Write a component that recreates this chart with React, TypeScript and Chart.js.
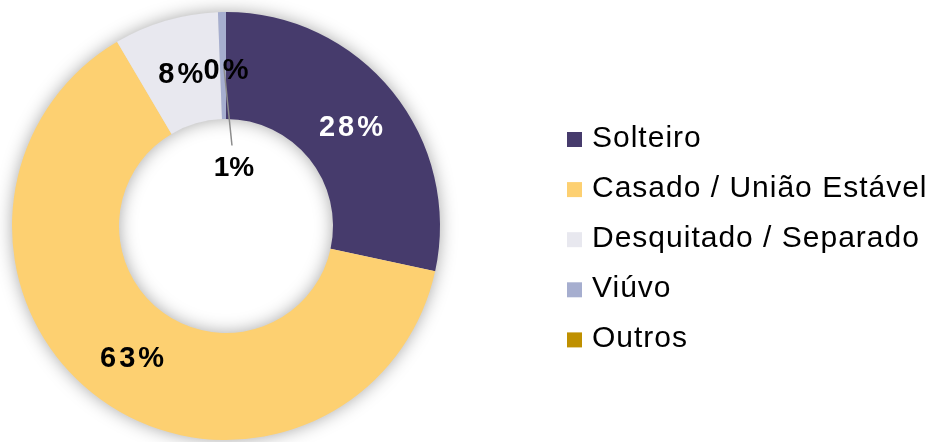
import React, { useEffect, useRef } from "react";
import { Chart, registerables } from "chart.js";

Chart.register(...registerables);

const categories = ["Solteiro", "Casado / União Estável", "Desquitado / Separado", "Viúvo", "Outros"];
const shares = [28.4, 63.1, 7.9, 0.6, 0];
const sliceColors = ["#463B6C", "#FDD071", "#E8E8EF", "#A6AECF", "#BF9000"];
const labelColors = ["#FFFFFF", "#000000", "#000000", "#000000", "#000000"];

const FONT = '"Liberation Sans", Arial, sans-serif';

// label displacement (only the tiny "Viúvo" slice has its label pulled inside with a leader line)
const labelShift = [
  { dx: 0, dy: 3, lead: false, spacing: 3, size: 29 },
  { dx: 0, dy: 3, lead: false, spacing: 3, size: 29 },
  { dx: 0, dy: 3, lead: false, spacing: 3, size: 29 },
  { dx: 11, dy: 103, lead: true, spacing: 0, size: 28 },
  { dx: 0, dy: 5, lead: false, spacing: 3, size: 29 },
];

const shadowPlugin = {
  id: "ringShadow",
  beforeDatasetsDraw(chart: any) {
    const arc: any = chart.getDatasetMeta(0).data[0];
    if (!arc) return;
    const { x, y, outerRadius, innerRadius } = arc.getProps(["x", "y", "outerRadius", "innerRadius"], true);
    const ctx = chart.ctx;
    ctx.save();
    ctx.shadowColor = "rgba(0,0,0,0.38)";
    ctx.shadowBlur = 18;
    ctx.fillStyle = "#d8d8d8";
    ctx.beginPath();
    ctx.arc(x, y, outerRadius - 1, 0, Math.PI * 2);
    ctx.arc(x, y, innerRadius + 1, 0, Math.PI * 2, true);
    ctx.fill();
    ctx.restore();
  },
};

const labelPlugin = {
  id: "sliceLabels",
  afterDatasetsDraw(chart: any) {
    const ctx = chart.ctx;
    const meta = chart.getDatasetMeta(0);
    const values = chart.data.datasets[0].data as number[];
    meta.data.forEach((arc: any, i: number) => {
      const p = arc.getCenterPoint();
      const s = labelShift[i];
      const lx = p.x + s.dx;
      const ly = p.y + s.dy;
      ctx.save();
      if (s.lead) {
        ctx.strokeStyle = "#8c8c8c";
        ctx.lineWidth = 1.5;
        ctx.beginPath();
        ctx.moveTo(p.x + 1, p.y + 2);
        ctx.lineTo(lx - 2, ly - 23);
        ctx.stroke();
      }
      ctx.font = `bold ${s.size}px ${FONT}`;
      (ctx as any).letterSpacing = `${s.spacing}px`;
      ctx.fillStyle = labelColors[i];
      ctx.textAlign = "center";
      ctx.textBaseline = "middle";
      ctx.fillText(`${Math.round(values[i])}%`, lx + s.spacing / 2, ly);
      ctx.restore();
    });
  },
};

const legendPlugin = {
  id: "sideLegend",
  afterDraw(chart: any) {
    const ctx = chart.ctx;
    const left = 567;
    const top = 132;
    const gap = 50.1;
    const box = 15;
    ctx.save();
    ctx.font = `30px ${FONT}`;
    (ctx as any).letterSpacing = "1px";
    ctx.textAlign = "left";
    ctx.textBaseline = "alphabetic";
    (chart.data.labels as string[]).forEach((lab, i) => {
      const y = top + i * gap;
      ctx.fillStyle = (chart.data.datasets[0].backgroundColor as string[])[i];
      ctx.fillRect(left, y, box, box);
      ctx.fillStyle = "#000000";
      ctx.fillText(lab, left + 25, y + 15);
    });
    ctx.restore();
  },
};

export default function App() {
  const ref = useRef<HTMLCanvasElement>(null);
  useEffect(() => {
    if (!ref.current) return;
    const chart = new Chart(ref.current, {
      type: "doughnut",
      data: {
        labels: categories,
        datasets: [
          {
            data: shares,
            backgroundColor: sliceColors,
            borderWidth: 0,
          },
        ],
      },
      options: {
        responsive: false,
        animation: false,
        cutout: "50%",
        layout: { padding: { left: 12, top: 12, right: 493, bottom: 2 } },
        plugins: {
          legend: { display: false },
          tooltip: { enabled: false },
        },
      },
      plugins: [shadowPlugin, labelPlugin, legendPlugin],
    });
    return () => chart.destroy();
  }, []);
  return (
    <div style={{ position: "fixed", left: 0, top: 0, width: 933, height: 442, background: "#ffffff" }}>
      <canvas ref={ref} width={933} height={442} style={{ display: "block" }} />
    </div>
  );
}
